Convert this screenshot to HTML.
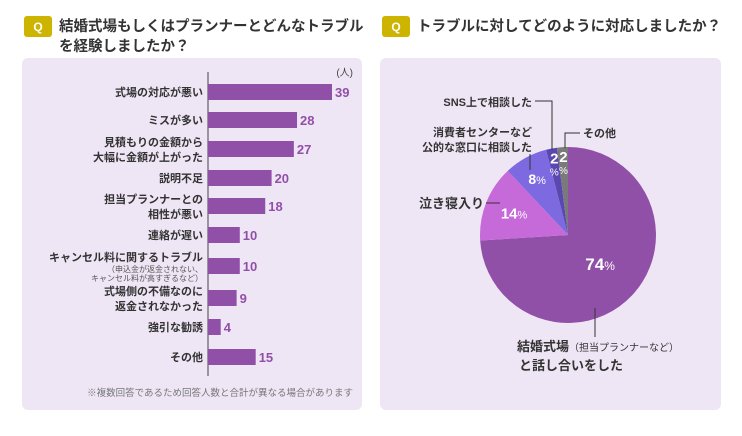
<!DOCTYPE html>
<html><head><meta charset="utf-8"><style>
body{margin:0;width:742px;height:431px;background:#fff;font-family:"Liberation Sans","Noto Sans CJK JP",sans-serif;overflow:hidden}
svg text{font-family:"Liberation Sans","Noto Sans CJK JP",sans-serif}
</style></head><body>
<svg id="s" width="742" height="431" xmlns="http://www.w3.org/2000/svg">
<rect x="22" y="58" width="340" height="352" rx="6" fill="#efe6f5"/>
<rect x="380" y="58" width="341" height="352" rx="6" fill="#efe6f5"/>
<rect x="24" y="16" width="28" height="21" rx="3" fill="#cdb400"/>
<text x="38" y="31" text-anchor="middle" font-size="12" font-weight="bold" fill="#fff">Q</text>
<text font-size="14.5" font-weight="bold" fill="#333"><tspan x="59" y="31">結婚式場もしくはプランナーとどんなトラブル</tspan><tspan x="59" y="51">を経験しましたか？</tspan></text>
<rect x="382" y="16" width="28" height="21" rx="3" fill="#cdb400"/>
<text x="396" y="31" text-anchor="middle" font-size="12" font-weight="bold" fill="#fff">Q</text>
<text x="417" y="31" font-size="14.5" font-weight="bold" fill="#333">トラブルに対してどのように対応しましたか？</text>
<text x="353" y="76" text-anchor="end" font-size="10" fill="#444">(人)</text>
<line x1="208" y1="72" x2="208" y2="376" stroke="#444" stroke-width="1"/>
<g id="bars"></g>
<text x="353" y="396" text-anchor="end" font-size="9.5" fill="#777">※複数回答であるため回答人数と合計が異なる場合があります</text>
<g id="pie"></g>
</svg>
<script>
const cats=[["式場の対応が悪い"],["ミスが多い"],["見積もりの金額から","大幅に金額が上がった"],["説明不足"],["担当プランナーとの","相性が悪い"],["連絡が遅い"],["キャンセル料に関するトラブル"],["式場側の不備なのに","返金されなかった"],["強引な勧誘"],["その他"]];
const values=[39,28,27,20,18,10,10,9,4,15];
const pieLabels=["結婚式場と話し合いをした","泣き寝入り","消費者センターなど公的な窓口に相談した","SNS上で相談した","その他"];
const pieValues=[74,14,8,2,2];
const NS="http://www.w3.org/2000/svg";
const s=document.getElementById('s');
function mk(t,a,p){const e=document.createElementNS(NS,t);for(const k in a)e.setAttribute(k,a[k]);(p||s).appendChild(e);return e;}
const x0=208,scale=124/39,rowY=[92,120,149,178,206,235,266,298,327,357];
const bg=document.getElementById('bars');
values.forEach((v,i)=>{
 const y=rowY[i];
 const r=mk('rect',{x:x0,y:y-8,width:v*scale,height:16,fill:'#9150a8'},bg);
 
 
 const t=mk('text',{x:x0+v*scale+3,y:y+5,'font-size':13,'font-weight':'bold',fill:'#9150a8'},bg);t.textContent=v;
 
 
 const lines=cats[i];
 const l=mk('text',{'font-size':11,'font-weight':'bold',fill:'#333','text-anchor':'end'},bg);
 
 
 if(i===6){
  const a=mk('tspan',{x:203,y:y-5},l);a.textContent=lines[0];
  const b=mk('text',{x:203,y:y+6,'font-size':8,fill:'#555','text-anchor':'end'},bg);b.textContent="（申込金が返金されない、";
  const c=mk('text',{x:203,y:y+15,'font-size':8,fill:'#555','text-anchor':'end'},bg);c.textContent="キャンセル料が高すぎるなど）";
 } else if(lines.length===2){
  const a=mk('tspan',{x:203,y:y-3},l);a.textContent=lines[0];
  const b=mk('tspan',{x:203,y:y+12},l);b.textContent=lines[1];
 } else {const a=mk('tspan',{x:203,y:y+4},l);a.textContent=lines[0];}
});
const cx=568,cy=235,R=88,cols=['#9150a8','#c76ad9','#7d6ae0','#5a47b0','#7a7a7a'];
const pg=document.getElementById('pie');
const tot=pieValues.reduce((a,b)=>a+b,0);
let acc=0;const mids=[];
pieValues.forEach((v,i)=>{
 const a0=acc/tot*2*Math.PI;acc+=v;const a1=acc/tot*2*Math.PI;
 const p=(a)=>[cx+R*Math.sin(a),cy-R*Math.cos(a)];
 const [x1,y1]=p(a0),[x2,y2]=p(a1);
 const path=mk('path',{d:`M${cx},${cy}L${x1},${y1}A${R},${R} 0 ${a1-a0>Math.PI?1:0} 1 ${x2},${y2}Z`,fill:cols[i]},pg);
 
 
 mids.push((a0+a1)/2);
});
function pct(i,rr,big,small,stack){
 const a=mids[i];const x=cx+rr*Math.sin(a),y=cy-rr*Math.cos(a);
 if(stack){
  const t=mk('text',{x:x,y:y,'font-size':15,'font-weight':'bold',fill:'#fff','text-anchor':'middle'},pg);t.textContent=pieValues[i];
  
  const u=mk('text',{x:x,y:y+12,'font-size':10,fill:'#fff','text-anchor':'middle'},pg);u.textContent='%';
 } else {
  const t=mk('text',{x:x,y:y+5,'font-size':big,'font-weight':'bold',fill:'#fff','text-anchor':'middle'},pg);
  
  const n=mk('tspan',{},t);n.textContent=pieValues[i];
  const u=mk('tspan',{'font-size':small,'font-weight':'normal'},t);u.textContent='%';
 }
}
pct(0,44,17,12);pct(1,58,15,11);pct(2,64,14,11);pct(3,73,0,0,true);pct(4,73,0,0,true);
function ln(pts){const e=mk('polyline',{points:pts,fill:'none',stroke:'#333','stroke-width':1},pg);}
function lbl(x,y,txt,sz,anchor,name){const t=mk('text',{x:x,y:y,'font-size':sz,'font-weight':'bold',fill:'#333','text-anchor':anchor||'start'},pg);t.textContent=txt;return t;}
ln("535,101 552,101 552,150");lbl(532,106,"SNS上で相談した",11,'end','pie-label-sns');
ln("530,154 530,170");lbl(532,136,"消費者センターなど",11,'end','pie-label-center');lbl(532,151,"公的な窓口に相談した",11,'end','pie-label-center-2');
ln("580,133 565,133 565,148");lbl(583,137,"その他",11,'start','pie-label-other');
ln("486,203 500,203");lbl(484,208,"泣き寝入り",13,'end','pie-label-nakineiri');
ln("595,308 595,337");
const t0=lbl(517,351,"結婚式場",13,'start','pie-label-venue');const sm=mk('tspan',{'font-size':10,'font-weight':'normal'},t0);sm.textContent="（担当プランナーなど）";
lbl(519,370,"と話し合いをした",13,'start','pie-label-venue-2');
</script>
</body></html>
